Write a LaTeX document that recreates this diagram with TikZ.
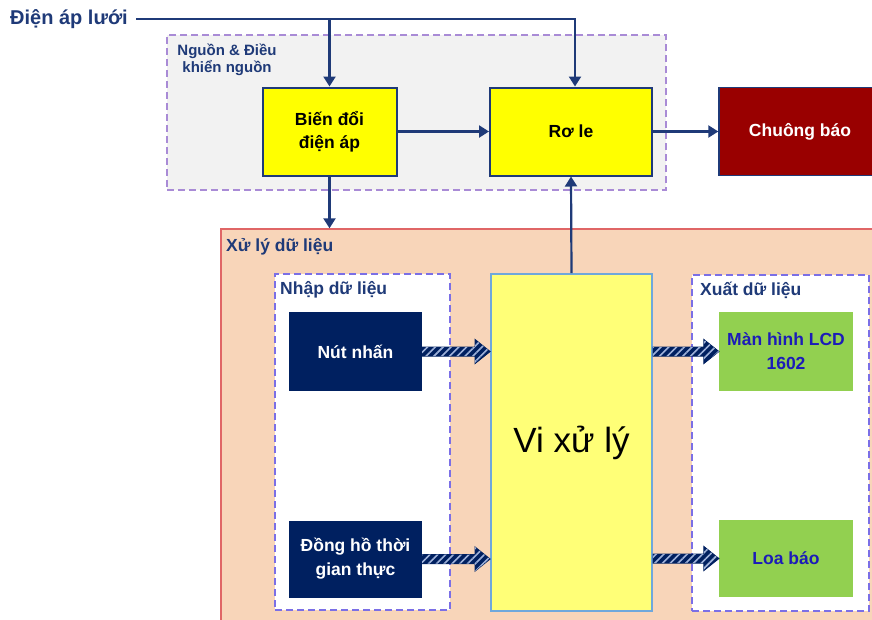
\documentclass[tikz,border=0pt]{standalone}
\usepackage{fontspec}
\setmainfont{Liberation Sans}
\usepackage{tikz}
\usetikzlibrary{calc,arrows.meta,patterns.meta}
\definecolor{navc}{HTML}{1F3A78}
\definecolor{boxc}{HTML}{002060}
\definecolor{yelc}{HTML}{FFFF00}
\definecolor{softy}{HTML}{FFFF77}
\definecolor{redc}{HTML}{990000}
\definecolor{grayc}{HTML}{F2F2F2}
\definecolor{peachc}{HTML}{F8D5B9}
\definecolor{edgec}{HTML}{E06666}
\definecolor{dashc}{HTML}{7B6FE6}
\definecolor{lilac}{HTML}{A98BD6}
\definecolor{greenc}{HTML}{92D050}
\definecolor{bluet}{HTML}{1C1CB8}
\definecolor{skyc}{HTML}{6FA8DC}
\definecolor{hatchc}{HTML}{9FB2DA}
\tikzset{
  ar/.style={-{Triangle[length=10pt,width=12pt]},line width=2.2pt,navc},
  blk/.style={draw=navc,line width=2pt,fill=yelc,minimum width=134pt,minimum height=88pt,align=center,font=\bfseries\fontsize{17.5}{23}\selectfont},
  dk/.style={draw=none,fill=boxc,text=white,minimum width=133pt,minimum height=79pt,align=center,font=\bfseries\fontsize{17.5}{24}\selectfont},
  gr/.style={draw=none,fill=greenc,text=bluet,minimum width=134pt,minimum height=79pt,align=center,font=\bfseries\fontsize{17.5}{24}\selectfont},
  grp/.style={draw=dashc,dash pattern=on 7pt off 4pt,line width=1.8pt,fill=white,inner sep=0pt},
  lbl/.style={text=navc,inner sep=2pt,font=\bfseries\fontsize{17.5}{20}\selectfont},
  fat/.style={fill=boxc,draw=boxc,line width=1pt,postaction={pattern={Lines[angle=45,distance=5.5pt,line width=1.6pt]},pattern color=hatchc}}
}
\newcommand\fatar[2]{\draw[fat] ($(#1)+(0,4.5)$) -- ($(#2)+(-15,4.5)$) -- ($(#2)+(-15,12)$) -- (#2) -- ($(#2)+(-15,-12)$) -- ($(#2)+(-15,-4.5)$) -- ($(#1)+(0,-4.5)$) -- cycle;}
\begin{document}
\begin{tikzpicture}[x=1pt,y=-1pt]
\useasboundingbox (0,0) rectangle (872,619);
\clip (0,0) rectangle (872,619);
\node[draw=lilac,dash pattern=on 7pt off 4pt,line width=1.8pt,fill=grayc,minimum width=499pt,minimum height=155pt] (ngbox) at (416.5,112.5) {};
\node[text=navc,align=center,font=\bfseries\fontsize{15}{17}\selectfont] (nglbl) at (227,60) {Nguồn \& Điều\\khiển nguồn};
\node[draw=edgec,line width=1.4pt,fill=peachc,minimum width=679pt,minimum height=411pt] (xl) at (560.5,434.5) {};
\node[lbl,anchor=west] (xllbl) at (224,247) {Xử lý dữ liệu};
\node[grp,minimum width=175pt,minimum height=336pt] (nhap) at (362.5,442) {};
\node[grp,minimum width=177pt,minimum height=336pt] (xuat) at (780.5,443) {};
\node[lbl,anchor=west] (nhaplbl) at (278,290) {Nhập dữ liệu};
\node[lbl,anchor=west] (xuatlbl) at (698,290) {Xuất dữ liệu};
\node[text=navc,anchor=west,inner sep=2pt,font=\bfseries\fontsize{20}{22}\selectfont] (dal) at (8,19) {Điện áp lưới};
\node[blk] (bd) at (329.5,131.5) {Biến đổi\\điện áp};
\node[blk,minimum width=162pt] (role) at (571,131.5) {Rơ le};
\node[blk,fill=redc,text=white,minimum width=162pt,line width=1.4pt] (chuong) at (800,131.5) {Chuông báo};
\node[dk] (nut) at (355.5,351.5) {Nút nhấn};
\node[dk,minimum height=77pt] (dongho) at (355.5,559) {Đồng hồ thời\\gian thực};
\node[draw=skyc,line width=2pt,fill=softy,minimum width=161pt,minimum height=337pt,font=\fontsize{35}{40}\selectfont] (vxl) at (571.5,442.5) {Vi xử lý};
\node[gr] (lcd) at (786,351.5) {Màn hình LCD\\1602};
\node[gr,minimum height=77pt] (loa) at (786,558.5) {Loa báo};
\draw[ar] ([xshift=6pt]dal.east) -| ([xshift=4pt]role.north);
\draw[ar] (bd.north |- dal.east) -- (bd.north);
\draw[ar] (bd.east) -- (role.west);
\draw[ar] (role.east) -- (chuong.west);
\draw[ar] (bd.south) -- (bd.south |- xl.north);
\draw[ar] (vxl.north) -- (role.south);
\coordinate (i1) at (vxl.west |- nut.east);
\coordinate (i2) at (vxl.west |- dongho.east);
\coordinate (o1) at (vxl.east |- lcd.west);
\coordinate (o2) at (vxl.east |- loa.west);
\fatar{nut.east}{i1}
\fatar{dongho.east}{i2}
\fatar{o1}{lcd.west}
\fatar{o2}{loa.west}
\end{tikzpicture}
\end{document}
